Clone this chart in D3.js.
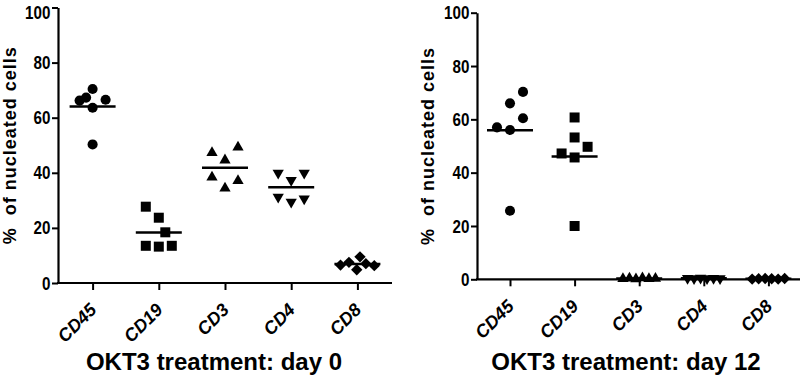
<!DOCTYPE html>
<html>
<head>
<meta charset="utf-8">
<script src="https://cdn.jsdelivr.net/npm/d3@7"></script>
<style>
  body { margin: 0; background: #fff; }
  svg { display: block; }
</style>
</head>
<body>
<svg id="chart" width="800" height="376"></svg>
<script>
// Data: % of nucleated cells per marker, 6 samples each
const markers = ["CD45", "CD19", "CD3", "CD4", "CD8"];
const yTicks = [0, 20, 40, 60, 80, 100];
const titles = ["OKT3 treatment: day 0", "OKT3 treatment: day 12"];
const yLabel = "%  of nucleated cells";

const day0Values = [
  [66.2, 67.3, 70.4, 66.5, 63.6, 50.3],
  [27.7, 23.7, 18.4, 13.5, 13.2, 13.5],
  [47.3, 44.6, 49.3, 38.4, 34.4, 37.1],
  [39.9, 37.3, 39.9, 31.2, 29.4, 30.6],
  [6.5, 7.5, 9.5, 4.8, 7.0, 6.3]
];
// horizontal slot of each point in the scatter (GraphPad-style spreading)
const day0Slots = [
  [-2, -1, 0, 2, 0, 0],
  [-2, 0, 1, -2, 0, 2],
  [-2, 0, 2, -2, 0, 2],
  [-2, 0, 2, -2, 0, 2],
  [-2.6, -1.3, 0.4, -0.1, 1.3, 2.6]
];

const day12Values = [
  [57.0, 56.0, 66.0, 60.4, 70.3, 25.7],
  [47.2, 45.7, 49.7, 53.2, 60.7, 20.0],
  [0.2, 0.4, 0.1, 0.5, 0.2, 0.3],
  [0.4, 0.3, 0.5, 0.3, 0.4, 0.3],
  [0.1, 0.2, 0.3, 0.2, 0.1, 0.3]
];
const day12Slots = [
  [-2, 0, 0, 2, 2, 0],
  [-2, 0, 2, 0, 0, 0],
  [-2.5, -1.5, -0.5, 0.5, 1.5, 2.5],
  [-2.5, -1.5, -0.5, 0.5, 1.5, 2.5],
  [-2.5, -1.5, -0.5, 0.5, 1.5, 2.5]
];

const svg = d3.select("#chart");
const slotWidth = 6.5;
const mainFont = "'Liberation Sans', Arial, sans-serif";
const squeeze = 0.8; // tick numbers are condensed in the original

// one symbol per marker: circle, square, triangle up, triangle down, diamond
const symbolFor = [
  { type: d3.symbolCircle, size: 80, rotate: 0 },
  { type: d3.symbolSquare, size: 100, rotate: 0 },
  { type: d3.symbolTriangle, size: 55, rotate: 0 },
  { type: d3.symbolTriangle, size: 55, rotate: 180 },
  { type: d3.symbolSquare, size: 64, rotate: 45 }
];

function drawPanel(opts) {
  const { axisX, xEnd, pointRange, yTop, yBottom, values, slots, title, titleX, labelX, topShift } = opts;

  const x = d3.scalePoint().domain(markers).range(pointRange).padding(0.5);
  const y = d3.scaleLinear().domain([0, 100]).range([yBottom, yTop]);

  const g = svg.append("g");

  // y axis
  const yAxis = g.append("g")
    .attr("transform", `translate(${axisX},0)`)
    .call(d3.axisLeft(y).tickValues(yTicks).tickSize(6).tickSizeOuter(0).tickPadding(3.5));
  yAxis.select(".domain").attr("stroke-width", 2.2);
  yAxis.selectAll(".tick line").attr("stroke-width", 2);
  yAxis.selectAll("text")
    .style("font-family", mainFont)
    .style("font-weight", "bold")
    .style("font-size", "19px")
    .attr("fill", "#000")
    .attr("transform", d => `scale(${squeeze},1)` + (d === 100 ? ` translate(0,${topShift})` : ""));

  // x axis
  const xAxis = g.append("g")
    .attr("transform", `translate(0,${yBottom})`)
    .call(d3.axisBottom(x).tickSize(7).tickSizeOuter(0));
  xAxis.select(".domain").remove();
  xAxis.selectAll(".tick line").attr("stroke-width", 2);
  xAxis.selectAll("text").remove();
  xAxis.append("line")
    .attr("x1", axisX - 1).attr("x2", xEnd)
    .attr("y1", 0).attr("y2", 0)
    .attr("stroke", "#000").attr("stroke-width", 2.2);

  // rotated category labels
  g.selectAll(".cat-label")
    .data(markers)
    .enter()
    .append("text")
    .attr("class", "cat-label")
    .attr("transform", d => `translate(${x(d) + 5},${yBottom + 28}) rotate(-45)`)
    .attr("text-anchor", "end")
    .style("font-family", mainFont)
    .style("font-weight", "bold")
    .style("font-style", "italic")
    .style("font-size", "18px")
    .text(d => d);

  // points
  markers.forEach((m, i) => {
    const sym = symbolFor[i];
    const pts = values[i].map((v, j) => ({ v, slot: slots[i][j] }));
    g.selectAll(`.pt-${m}`)
      .data(pts)
      .enter()
      .append("path")
      .attr("d", d3.symbol().type(sym.type).size(sym.size))
      .attr("transform", d => `translate(${x(m) + d.slot * slotWidth},${y(d.v)}) rotate(${sym.rotate})`)
      .attr("fill", "#000");

    // mean line
    const mean = d3.mean(values[i]);
    g.append("line")
      .attr("x1", x(m) - 23).attr("x2", x(m) + 23)
      .attr("y1", y(mean)).attr("y2", y(mean))
      .attr("stroke", "#000").attr("stroke-width", 2.5);
  });

  // y axis title
  g.append("text")
    .attr("transform", `translate(${labelX},${(yTop + yBottom) / 2}) rotate(-90)`)
    .attr("text-anchor", "middle")
    .attr("xml:space", "preserve")
    .style("font-family", mainFont)
    .style("font-weight", "bold")
    .style("font-size", "18px")
    .style("letter-spacing", "1px")
    .style("white-space", "pre")
    .text(yLabel);

  // panel title
  g.append("text")
    .attr("x", titleX)
    .attr("y", 370)
    .attr("text-anchor", "middle")
    .style("font-family", mainFont)
    .style("font-weight", "bold")
    .style("font-size", "24px")
    .text(title);
}

drawPanel({
  axisX: 58, xEnd: 392, pointRange: [59.5, 390.5],
  yTop: 7.5, yBottom: 283,
  values: day0Values, slots: day0Slots,
  title: titles[0], titleX: 214, labelX: 16, topShift: 5
});

drawPanel({
  axisX: 477, xEnd: 800, pointRange: [477.7, 800.7],
  yTop: 12.7, yBottom: 279.3,
  values: day12Values, slots: day12Slots,
  title: titles[1], titleX: 626, labelX: 434, topShift: 0
});
</script>
</body>
</html>
